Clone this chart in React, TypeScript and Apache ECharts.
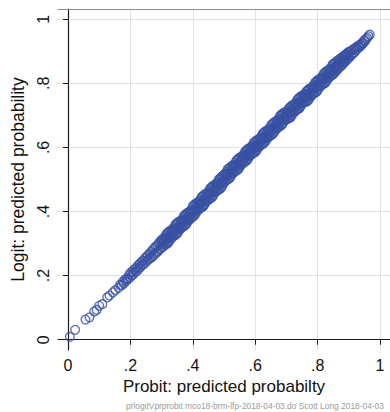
import React, { useEffect, useRef } from "react";
import * as echarts from "echarts";

// Axis ticks shared by both axes
const tickValues = [0, 0.2, 0.4, 0.6, 0.8, 1];
const tickLabels = ["0", ".2", ".4", ".6", ".8", "1"];

// [probit predicted probability, logit predicted probability]
const lowTail: [number, number][] = [
  [.006, .009], [.023, .031], [.056, .063], [.069, .070], [.084, .088], [.092, .093],
  [.100, .106], [.110, .111], [.126, .132], [.133, .138], [.144, .148], [.152, .155],
  [.162, .162], [.167, .171],
];

const lowerBand: [number, number][] = [
  [.172, .170], [.176, .181], [.179, .175], [.183, .188], [.186, .183], [.190, .192],
  [.193, .189], [.196, .203], [.199, .195], [.202, .210], [.205, .201], [.207, .213],
  [.210, .205], [.213, .220], [.216, .212], [.219, .224], [.221, .214], [.224, .231],
  [.227, .222], [.229, .236], [.232, .226], [.235, .242], [.238, .233], [.240, .247],
  [.243, .236], [.246, .254], [.249, .242], [.251, .258], [.254, .247], [.256, .264],
  [.259, .251], [.261, .268], [.264, .255], [.266, .274], [.269, .258], [.271, .280],
  [.274, .263], [.276, .285], [.279, .268], [.281, .291], [.284, .272], [.286, .294],
  [.288, .276], [.291, .301], [.293, .281], [.295, .305], [.297, .284], [.299, .308],
];

const coreBand: [number, number][] = [
  [.300, .312], [.302, .289], [.304, .314], [.306, .291], [.308, .317], [.310, .296], [.312, .323], [.314, .298],
  [.316, .331], [.318, .300], [.320, .333], [.322, .303], [.324, .338], [.326, .309], [.328, .340], [.330, .317],
  [.332, .342], [.334, .319], [.336, .345], [.338, .324], [.340, .351], [.342, .326], [.344, .359], [.346, .328],
  [.348, .361], [.350, .331], [.352, .366], [.354, .337], [.356, .368], [.358, .345], [.360, .370], [.362, .347],
  [.364, .373], [.366, .352], [.368, .379], [.370, .354], [.372, .387], [.374, .356], [.376, .389], [.378, .359],
  [.380, .394], [.382, .365], [.384, .396], [.386, .373], [.388, .398], [.390, .375], [.392, .401], [.394, .380],
  [.396, .407], [.398, .382], [.400, .417], [.402, .386], [.404, .419], [.406, .389], [.408, .424], [.410, .395],
  [.412, .426], [.414, .403], [.416, .428], [.418, .405], [.420, .431], [.422, .410], [.424, .437], [.426, .412],
  [.428, .445], [.430, .414], [.432, .447], [.434, .417], [.436, .452], [.438, .423], [.440, .454], [.442, .431],
  [.444, .456], [.446, .433], [.448, .459], [.450, .438], [.452, .465], [.454, .440], [.456, .473], [.458, .442],
  [.460, .475], [.462, .445], [.464, .480], [.466, .451], [.468, .482], [.470, .459], [.472, .484], [.474, .461],
  [.476, .487], [.478, .466], [.480, .493], [.482, .468], [.484, .501], [.486, .470], [.488, .503], [.490, .473],
  [.492, .508], [.494, .479], [.496, .510], [.498, .487], [.500, .515], [.502, .492], [.504, .518], [.506, .497],
  [.508, .524], [.510, .499], [.512, .532], [.514, .501], [.516, .534], [.518, .504], [.520, .539], [.522, .510],
  [.524, .541], [.526, .518], [.528, .543], [.530, .520], [.532, .546], [.534, .525], [.536, .552], [.538, .527],
  [.540, .560], [.542, .529], [.544, .562], [.546, .532], [.548, .567], [.550, .538], [.552, .569], [.554, .546],
  [.556, .571], [.558, .548], [.560, .574], [.562, .553], [.564, .580], [.566, .555], [.568, .588], [.570, .557],
  [.572, .590], [.574, .560], [.576, .595], [.578, .566], [.580, .597], [.582, .574], [.584, .599], [.586, .576],
  [.588, .602], [.590, .581], [.592, .608], [.594, .583], [.596, .616], [.598, .585], [.600, .617], [.602, .587],
  [.604, .622], [.606, .593], [.608, .624], [.610, .601], [.612, .626], [.614, .603], [.616, .629], [.618, .608],
  [.620, .635], [.622, .610], [.624, .643], [.626, .612], [.628, .645], [.630, .615], [.632, .650], [.634, .621],
  [.636, .652], [.638, .629], [.640, .654], [.642, .631], [.644, .657], [.646, .636], [.648, .663], [.650, .638],
  [.652, .671], [.654, .640], [.656, .673], [.658, .643], [.660, .678], [.662, .649], [.664, .680], [.666, .657],
  [.668, .682], [.670, .659], [.672, .685], [.674, .664], [.676, .691], [.678, .666], [.680, .699], [.682, .668],
  [.684, .701], [.686, .671], [.688, .706], [.690, .677], [.692, .708], [.694, .685], [.696, .710], [.698, .687],
  [.700, .709], [.702, .688], [.704, .715], [.706, .690], [.708, .723], [.710, .692], [.712, .725], [.714, .695],
  [.716, .730], [.718, .701], [.720, .732], [.722, .709], [.724, .734], [.726, .711], [.728, .737], [.730, .716],
  [.732, .743], [.734, .718], [.736, .751], [.738, .720], [.740, .753], [.742, .723], [.744, .758], [.746, .729],
  [.748, .760], [.750, .737], [.752, .762], [.754, .739], [.756, .765], [.758, .744], [.760, .767], [.762, .742],
  [.764, .775], [.766, .744], [.768, .777], [.770, .747], [.772, .782], [.774, .753], [.776, .784], [.778, .761],
  [.780, .786], [.782, .763], [.784, .789], [.786, .768], [.788, .795], [.790, .770], [.792, .803], [.794, .772],
  [.796, .805], [.798, .775], [.800, .810], [.802, .781], [.804, .812], [.806, .789], [.808, .814], [.810, .791],
  [.812, .817], [.814, .796], [.816, .823], [.818, .798], [.820, .831], [.822, .800], [.824, .833], [.826, .803],
  [.828, .838], [.830, .809], [.832, .840], [.834, .817], [.836, .842], [.838, .819], [.840, .845], [.842, .824],
  [.844, .851], [.846, .826], [.848, .859], [.850, .828],
];

// Observations lying near the middle of the band
const coreMiddle: [number, number][] = [
  [.301, .299], [.305, .306], [.309, .305], [.313, .315], [.317, .312], [.321, .320], [.325, .319], [.329, .327],
  [.333, .334], [.337, .333], [.341, .343], [.345, .340], [.349, .348], [.353, .347], [.357, .355], [.361, .362],
  [.365, .361], [.369, .371], [.373, .368], [.377, .376], [.381, .375], [.385, .383], [.389, .390], [.393, .389],
  [.397, .399], [.401, .398], [.405, .406], [.409, .405], [.413, .413], [.417, .420], [.421, .419], [.425, .429],
  [.429, .426], [.433, .434], [.437, .433], [.441, .441], [.445, .448], [.449, .447], [.453, .457], [.457, .454],
  [.461, .462], [.465, .461], [.469, .469], [.473, .476], [.477, .475], [.481, .485], [.485, .482], [.489, .490],
  [.493, .489], [.497, .497], [.501, .507], [.505, .506], [.509, .516], [.513, .513], [.517, .521], [.521, .520],
  [.525, .528], [.529, .535], [.533, .534], [.537, .544], [.541, .541], [.545, .549], [.549, .548], [.553, .556],
  [.557, .563], [.561, .562], [.565, .572], [.569, .569], [.573, .577], [.577, .576], [.581, .584], [.585, .591],
  [.589, .590], [.593, .600], [.597, .597], [.601, .604], [.605, .603], [.609, .611], [.613, .618], [.617, .617],
  [.621, .627], [.625, .624], [.629, .632], [.633, .631], [.637, .639], [.641, .646], [.645, .645], [.649, .655],
  [.653, .652], [.657, .660], [.661, .659], [.665, .667], [.669, .674], [.673, .673], [.677, .683], [.681, .680],
  [.685, .688], [.689, .687], [.693, .695], [.697, .702], [.701, .697], [.705, .707], [.709, .704], [.713, .712],
  [.717, .711], [.721, .719], [.725, .726], [.729, .725], [.733, .735], [.737, .732], [.741, .740], [.745, .739],
  [.749, .747], [.753, .754], [.757, .753], [.761, .759], [.765, .756], [.769, .764], [.773, .763], [.777, .771],
  [.781, .778], [.785, .777], [.789, .787], [.793, .784], [.797, .792], [.801, .791], [.805, .799], [.809, .806],
  [.813, .805], [.817, .815], [.821, .812], [.825, .820], [.829, .819], [.833, .827], [.837, .834], [.841, .833],
  [.845, .843], [.849, .840], [.853, .845], [.857, .851], [.861, .853], [.865, .859], [.869, .860], [.873, .866],
  [.877, .868], [.881, .873], [.885, .876], [.889, .881], [.893, .884], [.897, .888],
];

const upperBand: [number, number][] = [
  [.852, .861], [.854, .834], [.856, .863], [.858, .836], [.860, .868], [.862, .842], [.864, .871], [.866, .846],
  [.868, .873], [.870, .850], [.872, .876], [.874, .854], [.876, .880], [.878, .857], [.880, .882], [.882, .861],
  [.884, .886], [.886, .866], [.888, .889], [.890, .869], [.892, .891], [.894, .874], [.896, .895], [.898, .878],
  [.900, .898], [.903, .882], [.905, .900], [.908, .888], [.910, .903], [.913, .893], [.915, .907], [.918, .897],
  [.920, .910], [.923, .903], [.925, .914], [.928, .908], [.931, .918], [.934, .913], [.937, .922], [.940, .918],
  [.943, .926], [.946, .925], [.949, .934], [.952, .932], [.955, .938], [.959, .942], [.963, .947], [.967, .952],
];

const FONT = "'Liberation Sans', Arial, sans-serif";
const INK = "#111111";
const MARKER = "#3a51a3";

function tickText(v: number): string {
  const i = tickValues.findIndex((t) => Math.abs(t - v) < 1e-9);
  return i >= 0 ? tickLabels[i] : "";
}

export default function App() {
  const ref = useRef<HTMLDivElement>(null);

  useEffect(() => {
    if (!ref.current) return;
    const chart = echarts.init(ref.current, null, { renderer: "svg" });
    const axisMin = -0.032;
    const axisMax = 1.032;

    const baseAxis = {
      type: "value" as const,
      min: axisMin,
      max: axisMax,
      axisLine: { show: true, lineStyle: { color: "#1a1a1a", width: 1.2 } },
      axisTick: {
        show: true,
        length: 5,
        customValues: tickValues,
        lineStyle: { color: "#1a1a1a", width: 1 },
      },
      splitLine: { show: true, lineStyle: { color: "#e2e2e2", width: 1 } },
      nameLocation: "middle" as const,
      nameTextStyle: { fontSize: 17, color: INK, fontFamily: FONT },
    };

    chart.setOption({
      animation: false,
      backgroundColor: "#ffffff",
      grid: { left: 58, top: 9, width: 341, height: 341, containLabel: false },
      xAxis: [
        {
          ...baseAxis,
          position: "bottom",
          name: "Probit: predicted probabilty",
          nameGap: 27,
          axisLabel: {
            customValues: tickValues,
            formatter: (v: number) => tickText(v),
            fontSize: 16,
            color: INK,
            fontFamily: FONT,
            margin: 7,
          },
        },
        {
          type: "value",
          min: axisMin,
          max: axisMax,
          position: "top",
          axisLine: { show: true, lineStyle: { color: "#8c8c8c", width: 1.2 } },
          axisTick: { show: false },
          axisLabel: { show: false },
          splitLine: { show: false },
        },
      ],
      yAxis: [
        {
          ...baseAxis,
          position: "left",
          name: "Logit: predicted probability",
          nameGap: 30,
          nameTextStyle: { fontSize: 17.5, color: INK, fontFamily: FONT },
          axisLabel: {
            customValues: tickValues,
            formatter: (v: number) => tickText(v),
            fontSize: 16,
            color: INK,
            fontFamily: FONT,
            rotate: 90,
            margin: 7,
          },
        },
      ],
      graphic: [
        {
          type: "text",
          x: 126,
          y: 406,
          style: {
            text: "prlogitVprprobit mco18-brm-lfp-2018-04-03.do Scott Long 2018-04-03",
            fontSize: 8.4,
            fill: "#9c9c9c",
            fontFamily: FONT,
            align: "left",
            verticalAlign: "middle",
          },
        },
      ],
      series: [
        {
          type: "scatter",
          xAxisIndex: 0,
          yAxisIndex: 0,
          data: [...lowTail, ...lowerBand, ...coreBand, ...coreMiddle, ...upperBand],
          symbol: "circle",
          symbolSize: 8.7,
          itemStyle: {
            color: "rgba(0,0,0,0)",
            borderColor: MARKER,
            borderWidth: 1.4,
          },
          silent: true,
        },
      ],
    });

    return () => chart.dispose();
  }, []);

  return (
    <div
      ref={ref}
      style={{ position: "fixed", left: 0, top: 0, width: 390, height: 412, background: "#fff" }}
    />
  );
}
